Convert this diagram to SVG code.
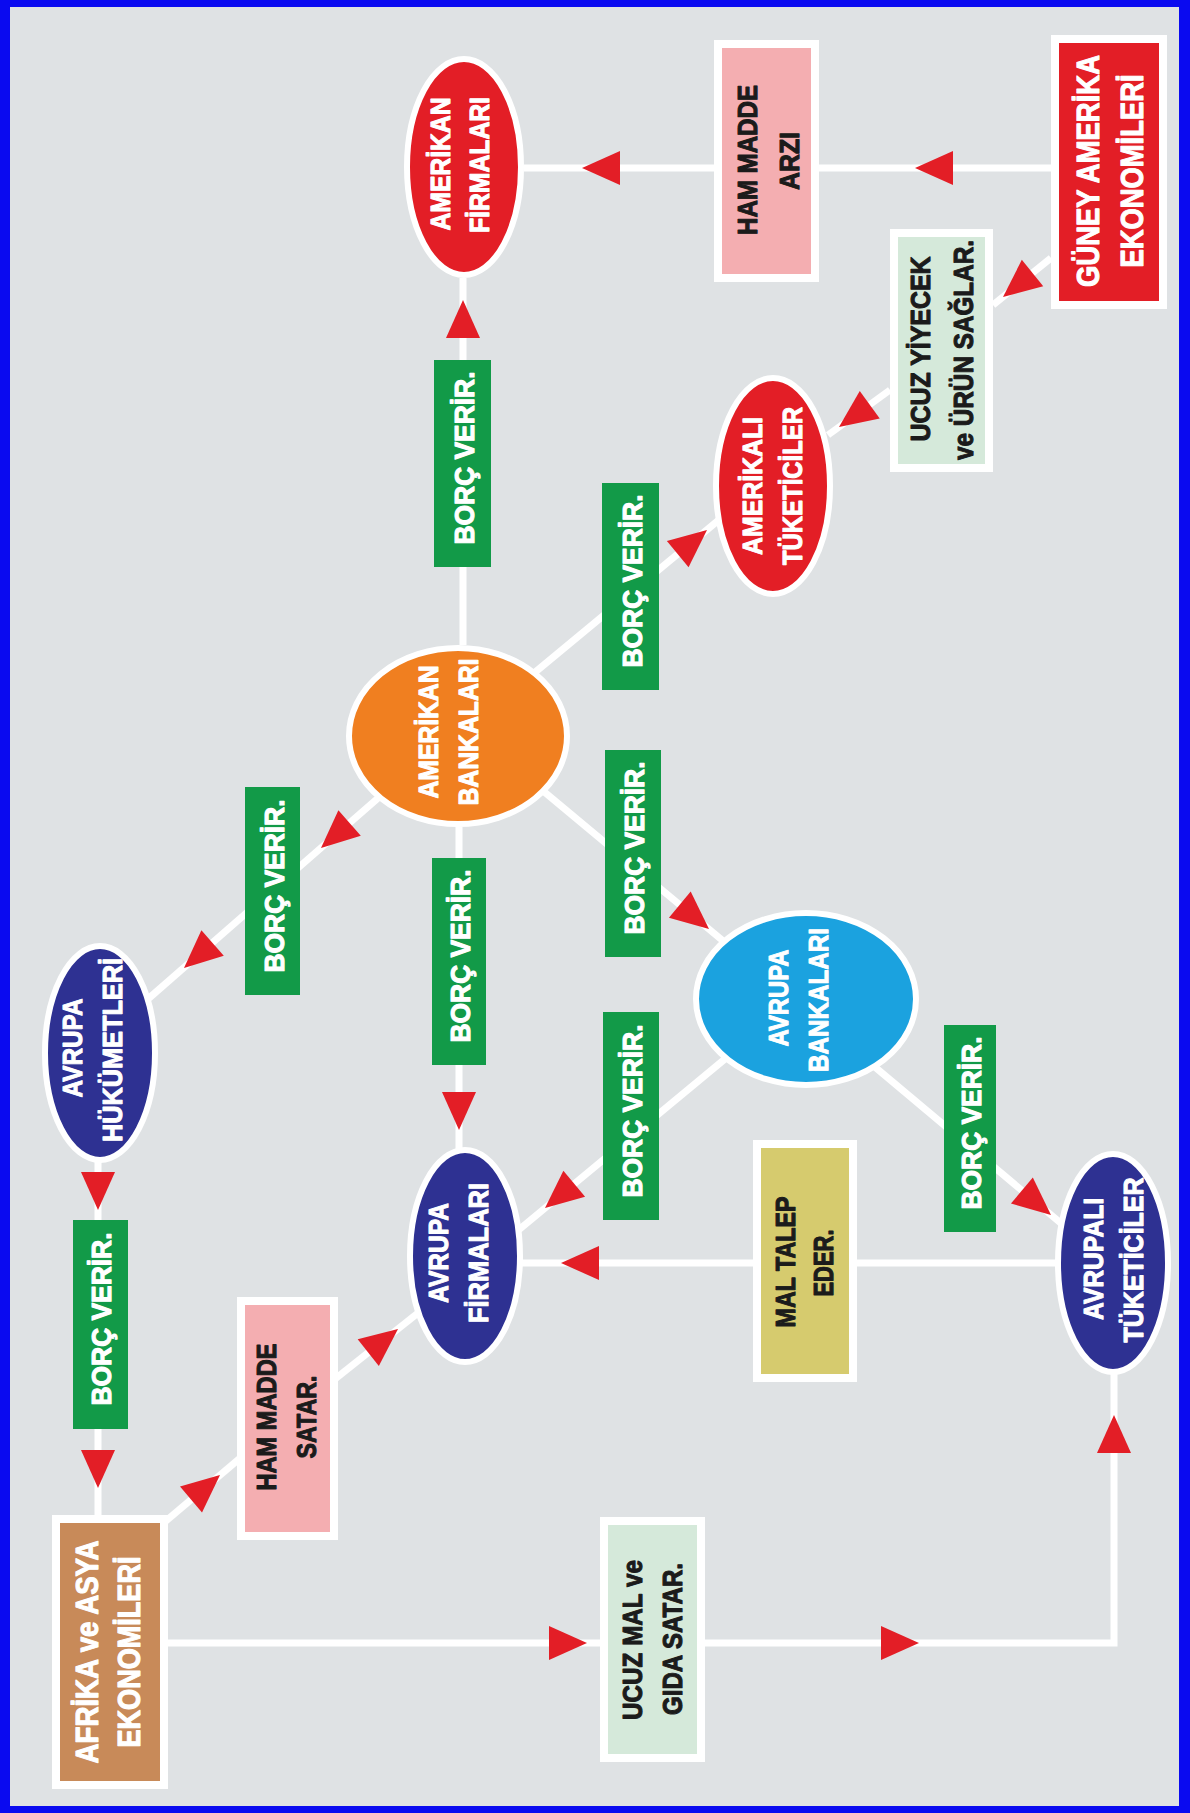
<svg xmlns="http://www.w3.org/2000/svg" xmlns:xlink="http://www.w3.org/1999/xlink" width="1190" height="1813" viewBox="0 0 1190 1813">
<defs>
<style>
.t{font-family:"Liberation Sans","Arial",sans-serif;font-weight:bold;font-size:28px;text-anchor:middle;stroke-width:1.1px;stroke-linejoin:round}
.big{font-size:31px}
.w{fill:#ffffff;stroke:#ffffff}
.k{fill:#1b1b1b;stroke:#1b1b1b}
.ln{stroke:#ffffff;stroke-width:7;fill:none}
.nd{stroke:#ffffff;stroke-width:6}
.bx{stroke:#ffffff;stroke-width:8}
.gb{fill:#129a48}
.red{fill:#e31e26}
.navy{fill:#2e3192}
</style>
<path id="arr" d="M0,0 L-38,-17 L-38,17 Z" fill="#e31e26"/>
</defs>
<rect x="0" y="0" width="1190" height="1813" fill="#0a0af0"/>
<rect x="10" y="7" width="1169" height="1799" fill="#dfe2e4"/>

<g id="connectors">
<line class="ln" x1="524" y1="168" x2="1051" y2="168"/>
<line class="ln" x1="1051" y1="258" x2="993" y2="305"/>
<line class="ln" x1="890" y1="390" x2="828" y2="435"/>
<line class="ln" x1="463" y1="278" x2="463" y2="645"/>
<line class="ln" x1="458" y1="736" x2="720" y2="519"/>
<line class="ln" x1="440" y1="744" x2="140" y2="1006"/>
<line class="ln" x1="459" y1="827" x2="459" y2="1150"/>
<line class="ln" x1="470" y1="730" x2="800" y2="1005"/>
<line class="ln" x1="807" y1="991" x2="480" y2="1262"/>
<line class="ln" x1="807" y1="1010" x2="1100" y2="1256"/>
<line class="ln" x1="1113" y1="1263" x2="463" y2="1263"/>
<line class="ln" x1="98" y1="1160" x2="98" y2="1517"/>
<line class="ln" x1="160" y1="1526" x2="245" y2="1454"/>
<line class="ln" x1="330" y1="1383" x2="467" y2="1274"/>
<line class="ln" x1="166" y1="1643" x2="602" y2="1643"/>
<polyline class="ln" points="703,1643 1114,1643 1114,1372"/>

<use xlink:href="#arr" transform="translate(582,168) rotate(180)"/>
<use xlink:href="#arr" transform="translate(915,168) rotate(180)"/>
<use xlink:href="#arr" transform="translate(1003,297) rotate(141)"/>
<use xlink:href="#arr" transform="translate(839,427) rotate(144)"/>
<use xlink:href="#arr" transform="translate(463,300) rotate(-90)"/>
<use xlink:href="#arr" transform="translate(707,530) rotate(-39.6)"/>
<use xlink:href="#arr" transform="translate(321,848) rotate(138.8)"/>
<use xlink:href="#arr" transform="translate(184,968) rotate(138.8)"/>
<use xlink:href="#arr" transform="translate(459,1130) rotate(90)"/>
<use xlink:href="#arr" transform="translate(709,929) rotate(39.8)"/>
<use xlink:href="#arr" transform="translate(545,1208) rotate(140.3)"/>
<use xlink:href="#arr" transform="translate(1051,1215) rotate(40)"/>
<use xlink:href="#arr" transform="translate(561,1263) rotate(180)"/>
<use xlink:href="#arr" transform="translate(98,1210) rotate(90)"/>
<use xlink:href="#arr" transform="translate(98,1488) rotate(90)"/>
<use xlink:href="#arr" transform="translate(220,1475) rotate(-40.3)"/>
<use xlink:href="#arr" transform="translate(398,1329) rotate(-38.5)"/>
<use xlink:href="#arr" transform="translate(587,1643)"/>
<use xlink:href="#arr" transform="translate(919,1643)"/>
<use xlink:href="#arr" transform="translate(1114,1415) rotate(-90)"/>

<g id="label-borc-1"><rect class="gb" x="434" y="360" width="57" height="207"/><text class="t w" transform="translate(474,458) rotate(-90)" textLength="173" lengthAdjust="spacingAndGlyphs">BORÇ VERİR.</text></g>
<g id="label-borc-2"><rect class="gb" x="602" y="483" width="57" height="207"/><text class="t w" transform="translate(642,581) rotate(-90)" textLength="173" lengthAdjust="spacingAndGlyphs">BORÇ VERİR.</text></g>
<g id="label-borc-3"><rect class="gb" x="245" y="787" width="55" height="208"/><text class="t w" transform="translate(284,886) rotate(-90)" textLength="173" lengthAdjust="spacingAndGlyphs">BORÇ VERİR.</text></g>
<g id="label-borc-4"><rect class="gb" x="432" y="858" width="54" height="207"/><text class="t w" transform="translate(470,956) rotate(-90)" textLength="173" lengthAdjust="spacingAndGlyphs">BORÇ VERİR.</text></g>
<g id="label-borc-5"><rect class="gb" x="605" y="750" width="56" height="207"/><text class="t w" transform="translate(644,848) rotate(-90)" textLength="173" lengthAdjust="spacingAndGlyphs">BORÇ VERİR.</text></g>
<g id="label-borc-6"><rect class="gb" x="603" y="1012" width="56" height="208"/><text class="t w" transform="translate(642,1111) rotate(-90)" textLength="173" lengthAdjust="spacingAndGlyphs">BORÇ VERİR.</text></g>
<g id="label-borc-7"><rect class="gb" x="944" y="1025" width="52" height="207"/><text class="t w" transform="translate(981,1123) rotate(-90)" textLength="173" lengthAdjust="spacingAndGlyphs">BORÇ VERİR.</text></g>
<g id="label-borc-8"><rect class="gb" x="73" y="1220" width="55" height="209"/><text class="t w" transform="translate(111,1319) rotate(-90)" textLength="173" lengthAdjust="spacingAndGlyphs">BORÇ VERİR.</text></g>
</g>

<g id="amerikan-firmalari">
<ellipse class="nd red" cx="464" cy="167" rx="57" ry="108"/>
<text class="t w" transform="translate(450,164) rotate(-90)" textLength="133" lengthAdjust="spacingAndGlyphs">AMERİKAN</text>
<text class="t w" transform="translate(489,165) rotate(-90)" textLength="136" lengthAdjust="spacingAndGlyphs">FİRMALARI</text>
</g>

<g id="ham-madde-arzi">
<rect class="bx" x="718" y="44" width="97" height="234" fill="#f4aeb1"/>
<text class="t k" transform="translate(757,160) rotate(-90)" textLength="150" lengthAdjust="spacingAndGlyphs">HAM MADDE</text>
<text class="t k" transform="translate(799,161) rotate(-90)" textLength="58" lengthAdjust="spacingAndGlyphs">ARZI</text>
</g>

<g id="guney-amerika">
<rect class="bx red" x="1055" y="39" width="108" height="266"/>
<text class="t big w" transform="translate(1099,171) rotate(-90)" textLength="232" lengthAdjust="spacingAndGlyphs">GÜNEY AMERİKA</text>
<text class="t big w" transform="translate(1143,171) rotate(-90)" textLength="193" lengthAdjust="spacingAndGlyphs">EKONOMİLERİ</text>
</g>

<g id="ucuz-yiyecek">
<rect class="bx" x="894" y="233" width="95" height="235" fill="#d5e9da"/>
<text class="t k" transform="translate(930,349) rotate(-90)" textLength="185" lengthAdjust="spacingAndGlyphs">UCUZ YİYECEK</text>
<text class="t k" transform="translate(973,350) rotate(-90)" textLength="220" lengthAdjust="spacingAndGlyphs">ve ÜRÜN SAĞLAR.</text>
</g>

<g id="amerikali-tuketiciler">
<ellipse class="nd red" cx="773" cy="486" rx="57" ry="108"/>
<text class="t w" transform="translate(762,486) rotate(-90)" textLength="138" lengthAdjust="spacingAndGlyphs">AMERİKALI</text>
<text class="t w" transform="translate(802,486) rotate(-90)" textLength="158" lengthAdjust="spacingAndGlyphs">TÜKETİCİLER</text>
</g>

<g id="amerikan-bankalari">
<ellipse class="nd" cx="458" cy="736" rx="109" ry="88" fill="#f07f20"/>
<text class="t w" transform="translate(438,732) rotate(-90)" textLength="133" lengthAdjust="spacingAndGlyphs">AMERİKAN</text>
<text class="t w" transform="translate(478,732) rotate(-90)" textLength="147" lengthAdjust="spacingAndGlyphs">BANKALARI</text>
</g>

<g id="avrupa-bankalari">
<ellipse class="nd" cx="806" cy="999" rx="110" ry="86" fill="#1ba2df"/>
<text class="t w" transform="translate(788,998) rotate(-90)" textLength="97" lengthAdjust="spacingAndGlyphs">AVRUPA</text>
<text class="t w" transform="translate(828,1000) rotate(-90)" textLength="144" lengthAdjust="spacingAndGlyphs">BANKALARI</text>
</g>

<g id="avrupa-hukumetleri">
<ellipse class="nd navy" cx="100" cy="1053" rx="55" ry="107"/>
<text class="t w" transform="translate(82,1048) rotate(-90)" textLength="99" lengthAdjust="spacingAndGlyphs">AVRUPA</text>
<text class="t w" transform="translate(122,1050) rotate(-90)" textLength="184" lengthAdjust="spacingAndGlyphs">HÜKÜMETLERİ</text>
</g>

<g id="avrupa-firmalari">
<ellipse class="nd navy" cx="465" cy="1256" rx="55" ry="106"/>
<text class="t w" transform="translate(448,1253) rotate(-90)" textLength="100" lengthAdjust="spacingAndGlyphs">AVRUPA</text>
<text class="t w" transform="translate(488,1253) rotate(-90)" textLength="140" lengthAdjust="spacingAndGlyphs">FİRMALARI</text>
</g>

<g id="mal-talep-eder">
<rect class="bx" x="757" y="1144" width="96" height="234" fill="#d6cb6e"/>
<text class="t k" transform="translate(795,1262) rotate(-90)" textLength="131" lengthAdjust="spacingAndGlyphs">MAL TALEP</text>
<text class="t k" transform="translate(833,1263) rotate(-90)" textLength="67" lengthAdjust="spacingAndGlyphs">EDER.</text>
</g>

<g id="avrupali-tuketiciler">
<ellipse class="nd navy" cx="1113" cy="1263" rx="55" ry="109"/>
<text class="t w" transform="translate(1103,1259) rotate(-90)" textLength="122" lengthAdjust="spacingAndGlyphs">AVRUPALI</text>
<text class="t w" transform="translate(1143,1260) rotate(-90)" textLength="165" lengthAdjust="spacingAndGlyphs">TÜKETİCİLER</text>
</g>

<g id="ham-madde-satar">
<rect class="bx" x="241" y="1301" width="93" height="235" fill="#f4aeb1"/>
<text class="t k" transform="translate(276,1417) rotate(-90)" textLength="147" lengthAdjust="spacingAndGlyphs">HAM MADDE</text>
<text class="t k" transform="translate(316,1417) rotate(-90)" textLength="83" lengthAdjust="spacingAndGlyphs">SATAR.</text>
</g>

<g id="afrika-asya">
<rect class="bx" x="56" y="1519" width="108" height="266" fill="#c88a59"/>
<text class="t big w" transform="translate(98,1652) rotate(-90)" textLength="223" lengthAdjust="spacingAndGlyphs">AFRİKA ve ASYA</text>
<text class="t big w" transform="translate(140,1652) rotate(-90)" textLength="191" lengthAdjust="spacingAndGlyphs">EKONOMİLERİ</text>
</g>

<g id="ucuz-mal">
<rect class="bx" x="604" y="1521" width="97" height="237" fill="#d5e9da"/>
<text class="t k" transform="translate(642,1640) rotate(-90)" textLength="160" lengthAdjust="spacingAndGlyphs">UCUZ MAL ve</text>
<text class="t k" transform="translate(682,1639) rotate(-90)" textLength="152" lengthAdjust="spacingAndGlyphs">GIDA SATAR.</text>
</g>
</svg>
